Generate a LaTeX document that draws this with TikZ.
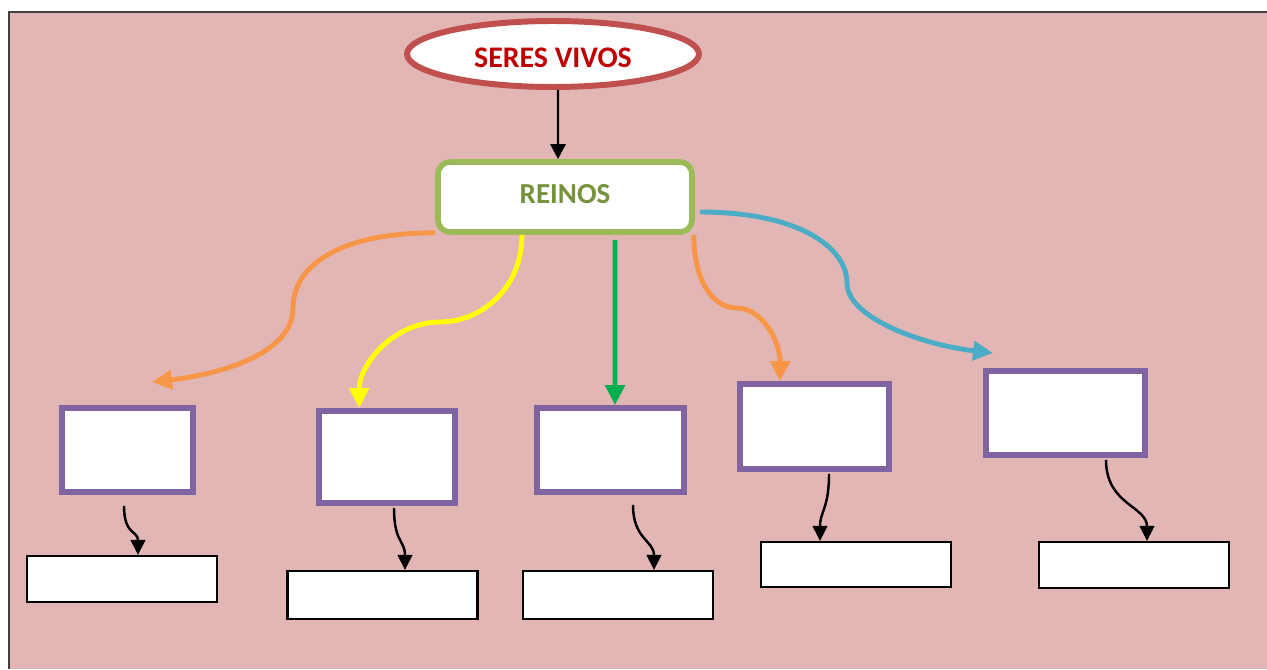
\documentclass[tikz,border=0pt]{standalone}
\usepackage{fontspec}
\setmainfont{Carlito}
\usepackage{tikz}
\usetikzlibrary{shapes.geometric,arrows.meta}
\definecolor{fondo}{HTML}{E3B6B6}
\definecolor{borde}{HTML}{404040}
\definecolor{rojo}{HTML}{C0504D}
\definecolor{rojotexto}{HTML}{C00000}
\definecolor{verde}{HTML}{9BBB59}
\definecolor{verdetexto}{HTML}{76923C}
\definecolor{morado}{HTML}{8064A2}
\definecolor{naranja}{HTML}{F79646}
\definecolor{amarillo}{HTML}{FFFF00}
\definecolor{verdeflecha}{HTML}{00B050}
\definecolor{azul}{HTML}{4BACC6}

\begin{document}
\begin{tikzpicture}[x=0.02cm,y=-0.02cm,
  reino/.style={draw=morado,line width=3.2pt,fill=white,inner sep=0pt},
  hueco/.style={draw=black,line width=1.2pt,fill=white,inner sep=0pt,minimum width=3.8cm},
  flecha/.style={line width=2.8pt,-{Triangle[length=0.4cm,width=0.38cm]}},
  flechita/.style={line width=1.4pt,-{Triangle[length=0.3cm,width=0.29cm]}}]
\useasboundingbox (0,0) rectangle (1267,669);
\fill[white] (0,0) rectangle (1267,669);
\fill[fondo] (9,12) rectangle (1267,669);
\draw[borde,line width=0.9pt] (9,669) -- (9,12) -- (1267,12);

\node[ellipse,draw=rojo,line width=3.4pt,fill=white,inner sep=0pt,
  minimum width=5.84cm,minimum height=1.32cm,text=rojotexto,text height=0.54cm,text depth=0pt,
  font=\fontsize{17}{20}\selectfont\bfseries] (sv) at (553,54) {SERES VIVOS};
\node[draw=verde,line width=3.2pt,fill=white,rounded corners=0.24cm,inner sep=0pt,
  minimum width=5.08cm,minimum height=1.40cm,text=verdetexto,text height=0.26cm,text depth=0pt,
  font=\fontsize{16.5}{20}\selectfont\bfseries] (re) at (565,197) {REINOS};
\draw[line width=1.4pt,-{Triangle[length=0.3cm,width=0.3cm]}]
  ([xshift=0.1cm]sv.south) -- ([xshift=-0.14cm]re.north);

\node[reino,minimum width=2.62cm,minimum height=1.68cm] (p1) at (127.5,450) {};
\node[reino,minimum width=2.72cm,minimum height=1.84cm] (p2) at (387,457) {};
\node[reino,minimum width=2.94cm,minimum height=1.68cm] (p3) at (610.5,450) {};
\node[reino,minimum width=2.98cm,minimum height=1.70cm] (p4) at (814.5,426.5) {};
\node[reino,minimum width=3.18cm,minimum height=1.68cm] (p5) at (1065.5,413) {};

\node[hueco,minimum height=0.92cm] (w1) at (122,579) {};
\node[hueco,minimum height=0.96cm] (w2) at (382.5,595) {};
\node[hueco,minimum height=0.96cm] (w3) at (618,595) {};
\node[hueco,minimum height=0.90cm] (w4) at (856,564.5) {};
\node[hueco,minimum height=0.92cm] (w5) at (1134,565) {};

\coordinate (o1m) at (293,308);
\coordinate (o1) at (152,382);
\coordinate (y2m) at (440,322);
\coordinate (o4m) at (737,308);
\coordinate (b5m) at (847,283);
\coordinate (b5) at (993,353);

\draw[flecha,naranja] ([yshift=0.04cm]re.south west) .. controls +(-100,0) and +(0,-40) .. (o1m)
  .. controls +(0,45) and +(70,-8) .. (o1);
\draw[flecha,amarillo] ([xshift=-0.86cm]re.south) .. controls +(0,55) and +(40,0) .. (y2m)
  .. controls +(-45,0) and +(0,-45) .. ([xshift=0.86cm]p2.north west);
\draw[flecha,verdeflecha,shorten <=0.1cm] ([xshift=1cm]re.south) -- ([xshift=0.09cm]p3.north);
\draw[flecha,naranja] ([xshift=-0.02cm]re.south east) .. controls +(0,45) and +(-25,0) .. (o4m)
  .. controls +(25,0) and +(0,-40) .. ([xshift=0.86cm]p4.north west);
\draw[flecha,azul] ([xshift=0.1cm,yshift=-0.3cm]re.east) .. controls +(100,0) and +(0,-35) .. (b5m)
  .. controls +(0,35) and +(-70,-8) .. (b5);

\draw[flechita] ([xshift=-0.07cm,yshift=-0.22cm]p1.south) .. controls +(0,30) and +(0,-25) .. ([xshift=0.32cm]w1.north);
\draw[flechita] ([xshift=0.14cm,yshift=-0.04cm]p2.south) .. controls +(0,35) and +(0,-30) .. ([xshift=0.45cm]w2.north);
\draw[flechita] ([xshift=0.45cm,yshift=-0.2cm]p3.south) .. controls +(0,35) and +(0,-30) .. ([xshift=0.72cm]w3.north);
\draw[flechita] ([xshift=0.29cm,yshift=-0.04cm]p4.south) .. controls +(0,35) and +(0,-30) .. ([xshift=-0.72cm]w4.north);
\draw[flechita] ([xshift=0.81cm,yshift=-0.04cm]p5.south) .. controls +(0,45) and +(0,-35) .. ([xshift=0.26cm]w5.north);
\end{tikzpicture}
\end{document}
